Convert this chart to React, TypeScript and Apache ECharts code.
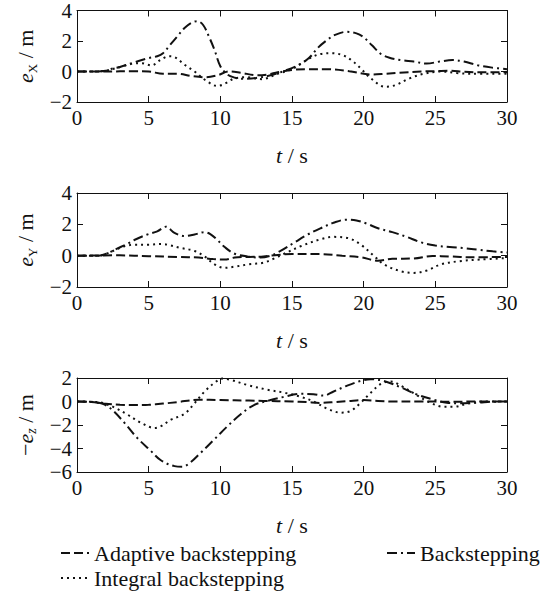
import React, { useEffect, useRef } from "react";
import * as echarts from "echarts";

// Time axis ticks (s)
const timeTicks = [0, 5, 10, 15, 20, 25, 30];

// Legend names
const names = ["Adaptive backstepping", "Backstepping", "Integral backstepping"];

// e_X (m) vs t (s)
const exAdaptive: [number, number][] = [
  [0, 0], [2, 0], [4, 0.02], [5, 0], [6, -0.15], [7, -0.15], [8, -0.3], [9, -0.38],
  [9.8, -0.25], [10.6, 0], [11.4, -0.08], [12.6, -0.25], [13.3, -0.2], [14, -0.05],
  [15, 0.1], [16, 0.15], [17.5, 0.15], [19, 0.02], [20.5, -0.2], [21.5, -0.15],
  [22.5, -0.08], [24, 0], [25, 0.02], [26, 0.05], [27, -0.02], [28, -0.05], [30, -0.05],
];
const exBackstepping: [number, number][] = [
  [0, 0], [1, 0], [2, 0.05], [2.5, 0.2], [3, 0.3], [4, 0.6], [5, 0.88], [5.6, 1.0],
  [6, 1.2], [6.5, 1.75], [7, 2.3], [7.5, 2.85], [8, 3.2], [8.4, 3.3], [8.8, 3.05],
  [9.2, 2.3], [9.6, 1.4], [10, 0.35], [10.5, -0.2], [11, -0.4], [11.5, -0.48],
  [12.5, -0.42], [13.5, -0.25], [14.5, 0.05], [15.5, 0.45], [16.2, 0.9], [16.8, 1.55],
  [17.5, 2.1], [18, 2.4], [18.8, 2.6], [19.5, 2.5], [20, 2.25], [20.6, 1.7], [21.2, 1.15],
  [21.8, 0.9], [22.6, 0.75], [23.5, 0.65], [24.4, 0.52], [25.3, 0.65], [26.2, 0.75],
  [27, 0.65], [28, 0.4], [29, 0.25], [30, 0.15],
];
const exIntegral: [number, number][] = [
  [0, 0], [1, 0], [2, 0.05], [3, 0.3], [3.8, 0.5], [4.5, 0.55], [5.2, 0.4], [5.8, 0.75],
  [6.4, 1.0], [6.8, 0.95], [7.5, 0.45], [8.2, 0], [9, -0.6], [9.8, -0.95], [10.3, -0.8],
  [11, -0.45], [11.8, -0.38], [12.9, -0.5], [14, -0.15], [15, 0.15], [15.6, 0.5],
  [16.3, 0.9], [17, 1.15], [17.8, 1.2], [18.6, 1.05], [19.2, 0.7], [19.8, 0.2],
  [20.5, -0.45], [21.5, -1.0], [22.2, -0.9], [23.2, -0.45], [24.2, -0.15], [25.4, 0],
  [26.5, -0.1], [27.5, -0.15], [30, -0.15],
];

// e_Y (m) vs t (s)
const eyAdaptive: [number, number][] = [
  [0, 0], [3, 0.02], [5, -0.03], [7, -0.08], [8.5, -0.12], [9.5, -0.22], [10.3, -0.25],
  [11, -0.12], [12, -0.08], [13, -0.05], [14, 0.05], [15, 0.1], [17, 0.1], [18.5, 0],
  [19.8, -0.1], [21, -0.32], [22, -0.2], [23.5, -0.18], [24.8, -0.02], [26, -0.05],
  [27.5, -0.1], [30, -0.08],
];
const eyBackstepping: [number, number][] = [
  [0, 0], [1.5, 0], [2.1, 0.15], [2.8, 0.45], [3.5, 0.75], [4, 1.0], [4.9, 1.35],
  [5.6, 1.55], [6.2, 1.85], [6.8, 1.45], [7.5, 1.25], [8.2, 1.35], [8.9, 1.5], [9.3, 1.38],
  [9.8, 1.0], [10.3, 0.55], [11, 0.12], [11.9, -0.05], [12.8, -0.12], [13.5, 0], [14.2, 0.3],
  [15.1, 0.8], [16.1, 1.35], [17, 1.75], [17.9, 2.1], [18.8, 2.3], [19.5, 2.25], [20.2, 2.05],
  [21, 1.75], [22, 1.5], [23, 1.2], [24, 0.85], [25, 0.65], [26, 0.55], [27, 0.48],
  [28, 0.38], [29, 0.28], [30, 0.2],
];
const eyIntegral: [number, number][] = [
  [0, 0], [1.5, 0], [2.5, 0.3], [3.3, 0.6], [4, 0.7], [5, 0.7], [5.9, 0.75], [6.4, 0.68],
  [7.2, 0.5], [8.2, 0.3], [8.9, -0.05], [9.6, -0.55], [10.3, -0.78], [11, -0.7], [12, -0.55],
  [13, -0.45], [13.7, -0.2], [14.4, 0.1], [15.6, 0.6], [17, 1.05], [17.9, 1.2], [19, 1.1],
  [19.8, 0.7], [20.7, 0], [21.4, -0.55], [22.6, -1.0], [23.5, -1.1], [24.4, -0.95],
  [25.4, -0.55], [26.7, -0.35], [28.1, -0.25], [30, -0.15],
];

// -e_z (m) vs t (s)
const ezAdaptive: [number, number][] = [
  [0, 0], [1, -0.05], [2, -0.2], [3, -0.28], [4, -0.3], [5, -0.28], [6, -0.18], [7, -0.05],
  [8.5, 0.15], [10, 0.12], [12, 0.08], [13, 0.05], [15, 0], [16, -0.05], [17, -0.12],
  [18, -0.05], [19, 0.05], [20, 0.12], [21, 0.05], [22, 0], [24, 0], [26, -0.02], [28, 0],
  [30, 0],
];
const ezBackstepping: [number, number][] = [
  [0, 0], [1.2, -0.05], [1.8, -0.2], [2.4, -0.65], [3.3, -1.8], [4.2, -3.1], [5.15, -4.2],
  [5.85, -5.0], [6.8, -5.5], [7.35, -5.55], [7.9, -5.2], [8.6, -4.4], [9.6, -3.2],
  [10.5, -2.1], [11.4, -1.1], [12.35, -0.3], [13.3, 0.05], [14.45, 0.4], [15.6, 0.65],
  [16.5, 0.62], [17.2, 0.5], [17.9, 0.85], [18.85, 1.35], [19.8, 1.75], [20.5, 1.9],
  [21.4, 1.75], [22.6, 1.2], [23.7, 0.6], [24.9, 0.15], [25.8, -0.1], [26.7, -0.15],
  [27.9, -0.1], [29, -0.02], [30, 0],
];
const ezIntegral: [number, number][] = [
  [0, 0], [1.5, -0.05], [2.2, -0.3], [2.6, -0.5], [3.5, -1.1], [4.45, -1.8], [5.4, -2.25],
  [5.85, -2.1], [6.55, -1.55], [7.5, -1.05], [8.2, -0.15], [8.9, 0.85], [9.6, 1.6],
  [10.15, 1.95], [10.7, 1.85], [11.9, 1.4], [13.3, 1.0], [14.45, 0.75], [15.6, 0.4],
  [16.5, 0], [17.45, -0.6], [18.4, -0.95], [19.1, -0.8], [19.8, -0.1], [20.5, 0.75],
  [21.2, 1.5], [21.9, 1.7], [22.6, 1.35], [23.7, 0.55], [24.65, -0.1], [25.6, -0.45],
  [26.3, -0.45], [27.2, -0.2], [28.4, 0], [30, 0],
];

// y-axis ranges per panel
const yRanges = [
  { min: -2, max: 4, interval: 2 },
  { min: -2, max: 4, interval: 2 },
  { min: -6, max: 2, interval: 2 },
];

const FONT = "'Liberation Serif', 'Times New Roman', serif";
const INK = "#111";

const dashPatterns = [
  [9, 4],
  [10, 4, 2, 4],
  [2, 4],
];

const minus = (v: number) => String(v).replace("-", "\u2212");

export default function App() {
  const ref = useRef<HTMLDivElement>(null);

  useEffect(() => {
    if (!ref.current) return;
    const chart = echarts.init(ref.current, undefined, { renderer: "svg" });

    const grids = [
      { left: 77, width: 430, top: 10, height: 92 },
      { left: 77, width: 430, top: 193, height: 94 },
      { left: 77, width: 430, top: 378, height: 94 },
    ];

    const richName = {
      e: { fontFamily: FONT, fontSize: 22, fontStyle: "italic", color: INK, lineHeight: 26 },
      n: { fontFamily: FONT, fontSize: 22, color: INK, lineHeight: 26 },
      s: { fontFamily: FONT, fontSize: 13, color: INK, verticalAlign: "bottom", lineHeight: 14 },
      si: { fontFamily: FONT, fontSize: 14, fontStyle: "italic", color: INK, verticalAlign: "bottom", lineHeight: 14 },
    };
    const yNames = [
      "{e|e}{s|X}{n| / m}",
      "{e|e}{s|Y}{n| / m}",
      "{n|\u2212}{e|e}{si|z}{n| / m}",
    ];

    const lineStyle = { color: INK, width: 1 };
    const labelStyle = { color: INK, fontFamily: FONT, fontSize: 21, margin: 5 };

    const xAxes: any[] = [];
    const yAxes: any[] = [];
    grids.forEach((_, i) => {
      xAxes.push({
        type: "value",
        gridIndex: i,
        position: "bottom",
        min: timeTicks[0],
        max: timeTicks[timeTicks.length - 1],
        interval: timeTicks[1] - timeTicks[0],
        axisLine: { show: true, onZero: false, lineStyle },
        axisTick: { show: true, inside: true, length: 6, lineStyle },
        axisLabel: { ...labelStyle },
        splitLine: { show: false },
        name: "{e|t}{n| / s}",
        nameLocation: "middle",
        nameGap: 40,
        nameTextStyle: { rich: richName },
      });
      yAxes.push({
        type: "value",
        gridIndex: i,
        position: "left",
        ...yRanges[i],
        axisLine: { show: true, onZero: false, lineStyle },
        axisTick: { show: true, inside: true, length: 6, lineStyle },
        axisLabel: { ...labelStyle, formatter: minus },
        splitLine: { show: false },
        name: yNames[i],
        nameLocation: "middle",
        nameRotate: 90,
        nameGap: 38,
        nameTextStyle: { rich: richName },
      });
    });
    // mirrored axes carrying the top and right tick marks
    grids.forEach((_, i) => {
      xAxes.push({
        type: "value",
        gridIndex: i,
        position: "top",
        min: timeTicks[0],
        max: timeTicks[timeTicks.length - 1],
        interval: timeTicks[1] - timeTicks[0],
        axisLine: { show: true, onZero: false, lineStyle },
        axisTick: { show: true, inside: true, length: 6, lineStyle },
        axisLabel: { show: false },
        splitLine: { show: false },
      });
      yAxes.push({
        type: "value",
        gridIndex: i,
        position: "right",
        ...yRanges[i],
        axisLine: { show: true, onZero: false, lineStyle },
        axisTick: { show: true, inside: true, length: 6, lineStyle },
        axisLabel: { show: false },
        splitLine: { show: false },
      });
    });

    const panels = [
      [exAdaptive, exBackstepping, exIntegral],
      [eyAdaptive, eyBackstepping, eyIntegral],
      [ezAdaptive, ezBackstepping, ezIntegral],
    ];

    const series: any[] = [];
    panels.forEach((set, p) => {
      set.forEach((data, k) => {
        series.push({
          type: "line",
          name: names[k],
          xAxisIndex: p,
          yAxisIndex: p,
          data,
          smooth: 0.35,
          symbol: "none",
          lineStyle: { color: INK, width: 2, type: dashPatterns[k] },
          itemStyle: { color: INK },
        });
      });
    });

    const legendBase = {
      itemWidth: 28,
      itemHeight: 14,
      itemStyle: { opacity: 0 },
      selectedMode: false,
      textStyle: { color: INK, fontFamily: FONT, fontSize: 22 },
      padding: 0,
    };

    chart.setOption({
      animation: false,
      backgroundColor: "#fff",
      textStyle: { fontFamily: FONT },
      grid: grids.map((g) => ({ ...g, show: false, containLabel: false })),
      xAxis: xAxes,
      yAxis: yAxes,
      legend: [
        { ...legendBase, left: 60, top: 542, data: [names[0]] },
        { ...legendBase, left: 386, top: 542, data: [names[1]] },
        { ...legendBase, left: 60, top: 567, data: [names[2]] },
      ],
      series,
    });

    return () => chart.dispose();
  }, []);

  return (
    <div
      ref={ref}
      style={{ position: "absolute", left: 0, top: 0, width: 550, height: 593, background: "#fff" }}
    />
  );
}
